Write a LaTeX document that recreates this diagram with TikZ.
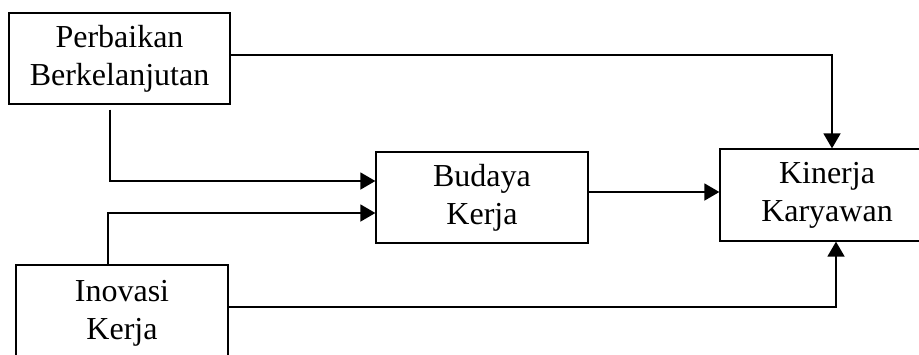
\documentclass[tikz,border=0pt]{standalone}
\usepackage{fontspec}
\setmainfont{Liberation Serif}
\usetikzlibrary{arrows.meta}
\begin{document}
\begin{tikzpicture}[x=1pt,y=-1pt,
  varbox/.style={draw,line width=1.3pt,align=center,inner sep=0pt,
    font=\fontsize{32}{38}\selectfont},
  conn/.style={line width=1.8pt,-{Triangle[length=15pt,width=17pt]}}]
  \clip (0,0) rectangle (919,354);
  \fill[white] (0,0) rectangle (919,354);

  % variables
  \node[varbox,minimum width=221pt,minimum height=91pt] (P) at (119.5,58.5)
    {Perbaikan\\Berkelanjutan};
  \node[varbox,minimum width=212pt,minimum height=91pt] (B) at (482,197.5)
    {Budaya\\Kerja};
  \node[varbox,minimum width=214pt,minimum height=92pt] (K) at (827,195)
    {Kinerja\\Karyawan};
  \node[varbox,minimum width=212pt,minimum height=97pt] (I) at (122,313.5)
    {Inovasi\\Kerja};

  % relations
  \draw[conn] ([yshift=3.5pt]P.east) -| ([xshift=5pt]K.north);
  \draw[conn] ([xshift=-9.5pt,yshift=-5pt]P.south) |- ([yshift=16.5pt]B.west);
  \draw[conn] ([xshift=-14pt]I.north) |- ([yshift=-15.5pt]B.west);
  \draw[conn] ([yshift=5.5pt]B.east) -- ([yshift=5.5pt]B.east -| K.west);
  \draw[conn] ([yshift=6.5pt]I.east) -| ([xshift=9pt]K.south);
\end{tikzpicture}
\end{document}
